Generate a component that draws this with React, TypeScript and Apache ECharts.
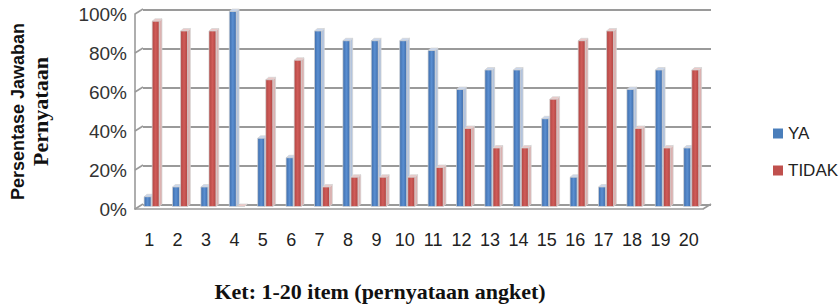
import React, { useEffect, useRef } from "react";
import * as echarts from "echarts";

const CATEGORIES = ["1", "2", "3", "4", "5", "6", "7", "8", "9", "10", "11", "12", "13", "14", "15", "16", "17", "18", "19", "20"];
const YA = [5, 10, 10, 100, 35, 25, 90, 85, 85, 85, 80, 60, 70, 70, 45, 15, 10, 60, 70, 30];
const TIDAK = [95, 90, 90, 0, 65, 75, 10, 15, 15, 15, 20, 40, 30, 30, 55, 85, 90, 40, 30, 70];
const Y_TICKS = [0, 20, 40, 60, 80, 100];
const SERIES_NAMES = ["YA", "TIDAK"];
const X_TITLE = "Ket: 1-20 item (pernyataan angket)";
const Y_TITLE_1 = "Persentase Jawaban";
const Y_TITLE_2 = "Pernyataan";

const WALL_DX = 8;
const WALL_DY = 5;
const GRID_COLOR = "#9a9a9a";

function makeBar(k: number, c1: string, c2: string, side: string, top: string) {
  return (params: any, api: any) => {
    const i = api.value(0);
    const v = api.value(1);
    const band = api.size([1, 0])[0];
    const p0 = api.coord([i, 0]);
    const p1 = api.coord([i, v]);
    const w = band * 0.245;
    const x = p0[0] + band * (k === 0 ? -0.18 : 0.105);
    const lift = 2.5;
    const yb = p0[1] - lift;
    const yt = p1[1] - lift;
    const bd = band * 0.1;
    const bh = 2.5;
    const stroke = "#d4d4d4";
    return {
      type: "group",
      children: [
        {
          type: "polygon",
          shape: { points: [[x + w, yt], [x + w + bd, yt - bh], [x + w + bd, yb - bh], [x + w, yb]] },
          style: { fill: side, stroke, lineWidth: 0.7 },
        },
        {
          type: "polygon",
          shape: { points: [[x, yt], [x + bd, yt - bh], [x + w + bd, yt - bh], [x + w, yt]] },
          style: { fill: top, stroke, lineWidth: 0.7 },
        },
        {
          type: "rect",
          shape: { x, y: yt, width: w, height: Math.max(yb - yt, 0) },
          style: {
            fill: new echarts.graphic.LinearGradient(0, 0, 1, 0, [
              { offset: 0, color: c1 },
              { offset: 0.5, color: c2 },
              { offset: 1, color: c1 },
            ]),
            stroke,
            lineWidth: 0.7,
          },
        },
      ],
    };
  };
}

export default function App() {
  const ref = useRef<HTMLDivElement>(null);
  useEffect(() => {
    if (!ref.current) return;
    const chart = echarts.init(ref.current, null, { renderer: "svg" });
    const connectorData: number[][] = Y_TICKS.map((v) => [0, v, 0]);
    connectorData.push([CATEGORIES.length - 1, 0, 1]);
    const option: any = {
      animation: false,
      backgroundColor: "#ffffff",
      legend: {
        data: SERIES_NAMES,
        orient: "vertical",
        left: 768,
        top: 120,
        itemWidth: 10,
        itemHeight: 10,
        itemGap: 20,
        icon: "rect",
        textStyle: { fontFamily: "Liberation Sans", fontSize: 17, color: "#222" },
      },
      grid: [
        { left: 135, right: 137, top: 14, bottom: 98 },
        { left: 143, right: 129, top: 10, bottom: 102 },
      ],
      xAxis: [
        {
          gridIndex: 0,
          type: "category",
          data: CATEGORIES,
          axisLine: { lineStyle: { color: GRID_COLOR, width: 1.6 } },
          axisTick: { length: 8, lineStyle: { color: GRID_COLOR, width: 1.4 } },
          axisLabel: { interval: 0, fontFamily: "Liberation Sans", fontSize: 18, color: "#222", margin: 22 },
          name: X_TITLE,
          nameLocation: "middle",
          nameGap: 71,
          nameTextStyle: {
            fontFamily: "Liberation Serif",
            fontWeight: "bold",
            fontSize: 22,
            lineHeight: 22,
            color: "#111",
            padding: [0, 78, 0, 0],
          },
        },
        { gridIndex: 1, type: "category", data: CATEGORIES, show: false },
      ],
      yAxis: [
        {
          gridIndex: 0,
          type: "value",
          min: 0,
          max: 100,
          interval: 20,
          axisLine: { show: true, lineStyle: { color: GRID_COLOR, width: 1.6 } },
          axisTick: { show: false },
          splitLine: { show: false },
          axisLabel: { formatter: "{value}%", fontFamily: "Liberation Sans", fontSize: 19, color: "#333", margin: 8 },
          name: `{a|${Y_TITLE_1}}\n{b|${Y_TITLE_2}}`,
          nameLocation: "middle",
          nameRotate: 90,
          nameGap: 84,
          nameTextStyle: {
            rich: {
              a: { fontFamily: "Liberation Sans", fontWeight: "bold", fontSize: 18, lineHeight: 22, color: "#111" },
              b: { fontFamily: "Liberation Serif", fontWeight: "bold", fontSize: 22, lineHeight: 22, color: "#111" },
            },
          },
        },
        {
          gridIndex: 1,
          type: "value",
          min: 0,
          max: 100,
          interval: 20,
          axisLine: { show: false },
          axisTick: { show: false },
          axisLabel: { show: false },
          splitLine: { show: true, lineStyle: { color: GRID_COLOR, width: 1.8 } },
        },
      ],
      series: [
        {
          name: "walls",
          type: "custom",
          xAxisIndex: 0,
          yAxisIndex: 0,
          silent: true,
          z: 1,
          data: connectorData,
          renderItem: (params: any, api: any) => {
            const i = api.value(0);
            const v = api.value(1);
            const right = api.value(2) === 1;
            const band = api.size([1, 0])[0];
            const p = api.coord([i, v]);
            const x0 = right ? p[0] + band / 2 : p[0] - band / 2;
            return {
              type: "line",
              shape: { x1: x0, y1: p[1], x2: x0 + WALL_DX, y2: p[1] - WALL_DY },
              style: { stroke: GRID_COLOR, lineWidth: 1.6 },
            };
          },
        },
        {
          name: SERIES_NAMES[0],
          type: "custom",
          xAxisIndex: 0,
          yAxisIndex: 0,
          z: 3,
          itemStyle: { color: "#4a7ebb" },
          encode: { x: 0, y: 1 },
          data: YA.map((v, i) => [i, v]),
          renderItem: makeBar(0, "#3d6cab", "#5b8fd1", "#b3c4de", "#c9d6ec"),
        },
        {
          name: SERIES_NAMES[1],
          type: "custom",
          xAxisIndex: 0,
          yAxisIndex: 0,
          z: 4,
          itemStyle: { color: "#c0504d" },
          encode: { x: 0, y: 1 },
          data: TIDAK.map((v, i) => [i, v]),
          renderItem: makeBar(1, "#b04542", "#d05c59", "#dcb2b1", "#ecc9c8"),
        },
      ],
    };
    chart.setOption(option);
    return () => chart.dispose();
  }, []);
  return (
    <div
      ref={ref}
      style={{ position: "absolute", left: 0, top: 0, width: 840, height: 307, background: "#fff" }}
    />
  );
}
